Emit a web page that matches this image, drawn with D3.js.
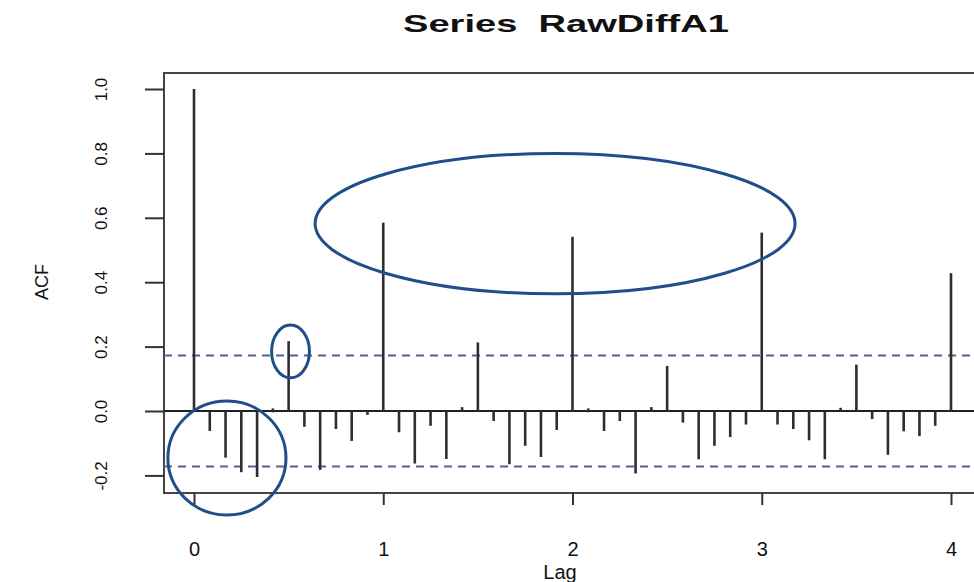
<!DOCTYPE html>
<html>
<head>
<meta charset="utf-8">
<script src="https://cdn.jsdelivr.net/npm/d3@7"></script>
<style>
  html, body { margin: 0; padding: 0; background: #fff; }
  svg { display: block; }
  text { font-family: "Liberation Sans", Arial, sans-serif; fill: #111; }
</style>
</head>
<body>
<svg id="chart" width="974" height="582"></svg>
<script>
// Sample autocorrelations of RawDiffA1, one value per lag step (1/12 of a cycle)
const acfValues = [
  1.000, -0.062, -0.145, -0.190, -0.205, 0.004, 0.217, -0.049, -0.183, -0.056, -0.093, -0.012,
  0.585, -0.066, -0.163, -0.046, -0.149, 0.012, 0.213, -0.031, -0.165, -0.108, -0.143, -0.059,
  0.541, 0.004, -0.062, -0.031, -0.194, 0.012, 0.140, -0.036, -0.150, -0.108, -0.081, -0.042,
  0.554, -0.042, -0.056, -0.091, -0.150, 0.010, 0.144, -0.025, -0.136, -0.063, -0.078, -0.046,
  0.428
];
const lagFrequency = 12;
const confBound = 0.172;            // 95% white-noise band
const xTicks = [0, 1, 2, 3, 4];
const yTicks = [-0.2, 0.0, 0.2, 0.4, 0.6, 0.8, 1.0];
const titleText = "Series  RawDiffA1";
const xLabel = "Lag";
const yLabel = "ACF";
// Highlight rings: centre (lag, acf) and radii in data units
const highlightCx = [1.908, 0.510, 0.174];
const highlightCy = [0.582, 0.185, -0.146];
const highlightRx = [1.268, 0.100, 0.312];
const highlightRy = [0.218, 0.082, 0.177];

const svg = d3.select("#chart");

const x = d3.scaleLinear().domain([0, 4]).range([194, 951]);
const y = d3.scaleLinear().domain([0, 1]).range([411, 89]);

const box = { left: x(-0.1586), right: 1010, top: y(1.0497), bottom: y(-0.2547) };

// Plot frame (open to the right where the page ends)
svg.append("rect")
  .attr("x", box.left).attr("y", box.top)
  .attr("width", box.right - box.left).attr("height", box.bottom - box.top)
  .attr("fill", "none").attr("stroke", "#444").attr("stroke-width", 2);

// Zero line
svg.append("line")
  .attr("x1", box.left).attr("x2", box.right)
  .attr("y1", y(0)).attr("y2", y(0))
  .attr("stroke", "#222").attr("stroke-width", 2);

// Confidence band
[confBound, -confBound].forEach(v => {
  svg.append("line")
    .attr("x1", box.left).attr("x2", box.right)
    .attr("y1", y(v)).attr("y2", y(v))
    .attr("stroke", "#5d5d8f").attr("stroke-width", 2)
    .attr("stroke-dasharray", "8,6");
});

// ACF spikes
svg.append("g").selectAll("line")
  .data(acfValues)
  .join("line")
  .attr("x1", (d, i) => x(i / lagFrequency))
  .attr("x2", (d, i) => x(i / lagFrequency))
  .attr("y1", y(0))
  .attr("y2", d => y(d))
  .attr("stroke", "#2e2e2e").attr("stroke-width", 2.6)
  .attr("stroke-linecap", d => Math.abs(d) < 0.008 ? "square" : "butt");

// Bottom axis
const xAxis = svg.append("g").attr("transform", `translate(0,${box.bottom})`)
  .call(d3.axisBottom(x).tickValues(xTicks).tickFormat(d3.format("d")).tickSize(12).tickPadding(37));
xAxis.select(".domain").remove();
xAxis.selectAll(".tick line").attr("stroke", "#333").attr("stroke-width", 2);
xAxis.selectAll(".tick text").style("font-size", "20px").attr("fill", "#111");

// Left axis with rotated labels
const yAxis = svg.append("g").attr("transform", `translate(${box.left},0)`)
  .call(d3.axisLeft(y).tickValues(yTicks).tickFormat(d3.format(".1f")).tickSize(19).tickPadding(0));
yAxis.select(".domain").remove();
yAxis.selectAll(".tick line").attr("stroke", "#333").attr("stroke-width", 2);
yAxis.selectAll(".tick text")
  .text(d => d3.format(".1f")(d).replace("−", "-"))
  .attr("x", null).attr("dy", null)
  .attr("text-anchor", "middle")
  .attr("transform", "translate(-63,0) rotate(-90) translate(0,6)")
  .style("font-size", "17px").attr("fill", "#111");

// Title and axis titles
svg.append("text")
  .attr("x", 566).attr("y", 32)
  .attr("text-anchor", "middle")
  .attr("xml:space", "preserve")
  .style("white-space", "pre")
  .attr("textLength", 326).attr("lengthAdjust", "spacingAndGlyphs")
  .style("font-size", "24px").style("font-weight", "bold")
  .text(titleText);

svg.append("text")
  .attr("x", 560).attr("y", 579)
  .attr("text-anchor", "middle")
  .style("font-size", "20px")
  .text(xLabel);

svg.append("text")
  .attr("transform", "translate(48,282) rotate(-90)")
  .attr("text-anchor", "middle")
  .style("font-size", "18px")
  .text(yLabel);

// Highlight rings
svg.append("g").selectAll("ellipse")
  .data(highlightCx)
  .join("ellipse")
  .attr("cx", d => x(d))
  .attr("cy", (d, i) => y(highlightCy[i]))
  .attr("rx", (d, i) => x(highlightRx[i]) - x(0))
  .attr("ry", (d, i) => y(0) - y(highlightRy[i]))
  .attr("fill", "none")
  .attr("stroke", "#1f4f8a")
  .attr("stroke-width", 3);
</script>
</body>
</html>
